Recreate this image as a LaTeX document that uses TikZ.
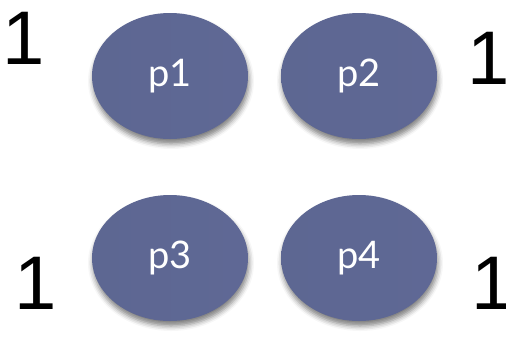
\documentclass[tikz,border=0pt]{standalone}
\usepackage{fontspec}
\setmainfont{Liberation Sans}
\newfontfamily\procfont{Lato}
\usetikzlibrary{shapes.geometric,shadows.blur}
\definecolor{pdark}{HTML}{5D6792}
\definecolor{pmid}{HTML}{6971A1}
\definecolor{pedge}{HTML}{5F6895}
\tikzset{
  proc/.style  = {ellipse, minimum width=156pt, minimum height=126pt,
                  inner sep=0pt, left color=pdark, middle color=pmid,
                  right color=pedge, text=white,
                  font=\procfont\fontsize{38}{38}\selectfont,
                  blur shadow={shadow xshift=1pt, shadow yshift=-5pt,
                               shadow blur radius=5pt, shadow opacity=50}},
  cnt/.style   = {inner sep=0pt, font=\fontsize{76}{76}\selectfont},
}
\newcommand{\plab}[1]{\raisebox{-5pt}{#1}}
\newcommand{\onecnt}{\makebox[22pt]{1}}

\begin{document}
\begin{tikzpicture}[x=1pt,y=-1pt]
  \useasboundingbox (0,0) rectangle (506,341);
  % processes
  \node[proc] (p1) at (170,76)  {\plab{p1}};
  \node[proc] (p2) at (359,76)  {\plab{p2}};
  \node[proc] (p3) at (170,258) {\plab{p3}};
  \node[proc] (p4) at (359,258) {\plab{p4}};
  % counters
  \node[cnt] (c1) at (24,38)   {\onecnt};
  \node[cnt] (c2) at (489,58)  {\onecnt};
  \node[cnt] (c3) at (36,283)  {\onecnt};
  \node[cnt] (c4) at (493,283) {\onecnt};
\end{tikzpicture}
\end{document}
